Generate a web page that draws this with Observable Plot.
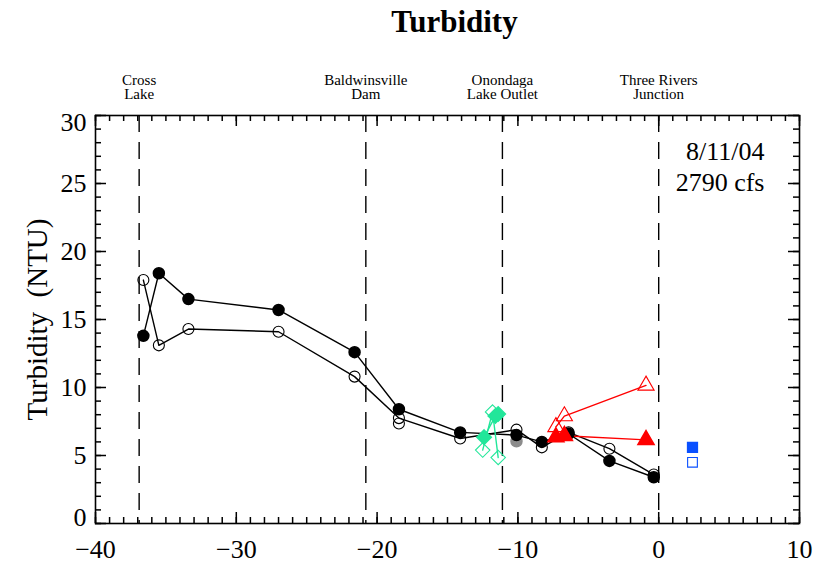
<!DOCTYPE html>
<html>
<head>
<meta charset="utf-8">
<script src="https://cdn.jsdelivr.net/npm/d3@7"></script>
<script src="https://cdn.jsdelivr.net/npm/@observablehq/plot@0.6"></script>
<style>
  html, body { margin: 0; padding: 0; background: #fff; }
</style>
</head>
<body>
<div id="chart"></div>
<script>
// Landmarks along the river (km relative to Three Rivers Junction)
const siteNames = ["Cross\nLake", "Baldwinsville\nDam", "Onondaga\nLake Outlet", "Three Rivers\nJunction"];
const siteKm = [-36.9, -20.8, -11.1, 0];

// Main-stem stations: distance (km) and turbidity (NTU)
const stationKm  = [-36.6, -35.5, -33.4, -27.0, -21.6, -18.45, -14.1, -10.1, -8.3, -6.4, -3.5, -0.35];
const turbFilled = [13.8, 18.4, 16.5, 15.7, 12.6, 8.4, 6.7, 6.5, 6.0, 6.6, 4.6, 3.4];
const turbOpen   = [17.9, 13.1, 14.3, 14.1, 10.8, 7.75, 6.25, 6.9, 5.6, 6.7, 5.5, 3.6];

// Extra main-stem readings
const extraOpenKm = [-18.45];
const extraOpenTurb = [7.35];
const grayKm = [-10.1];
const grayTurb = [6.05];

// Onondaga Lake outlet samples (diamonds)
const outletFilledKm = [-12.4, -11.6, -11.4];
const outletFilledTurb = [6.35, 7.9, 8.05];
const outletOpenKm = [-12.5, -11.8, -11.4];
const outletOpenTurb = [5.4, 8.2, 4.85];

// Seneca River samples (triangles)
const senecaKm = [-7.3, -6.7, -0.9];
const senecaFilledTurb = [6.35, 6.45, 6.15];
const senecaOpenTurb = [7.1, 7.9, 10.15];

// Oneida River samples (squares)
const oneidaKm = [2.4];
const oneidaFilledTurb = [5.6];
const oneidaOpenTurb = [4.5];

// Run annotation
const runDate = "8/11/04";
const runFlow = "2790 cfs";

// Axis ticks
const xDomain = [-40, 10];
const yDomain = [0, 30];
const xTickLabels = [-40, -30, -20, -10, 0, 10];
const yTickLabels = [0, 5, 10, 15, 20, 25, 30];
const xMinor = d3.range(-40, 11, 1);
const yMinor = d3.range(0, 31, 1);

const pts = (xs, ys) => xs.map((x, i) => ({x, y: ys[i]}));

const mainFilled = pts(stationKm, turbFilled);
const mainOpen = pts(stationKm, turbOpen);
const extraOpen = pts(extraOpenKm, extraOpenTurb);
const gray = pts(grayKm, grayTurb);
const outletFilled = pts(outletFilledKm, outletFilledTurb);
const outletOpen = pts(outletOpenKm, outletOpenTurb);
const senecaFilled = pts(senecaKm, senecaFilledTurb);
const senecaOpen = pts(senecaKm, senecaOpenTurb);
const oneidaFilled = pts(oneidaKm, oneidaFilledTurb);
const oneidaOpen = pts(oneidaKm, oneidaOpenTurb);
const sites = siteKm.map((x, i) => ({x, name: siteNames[i]}));

const GREEN = "#22e69a";
const RED = "#ff0000";
const BLUE = "#0a50ff";

// Plot frame size in pixels
const W = 815, H = 564;
const mL = 95, mR = 16, mT = 115, mB = 41;
const frameW = W - mL - mR, frameH = H - mT - mB;
const xPerPx = (xDomain[1] - xDomain[0]) / frameW;

// Inward ticks: x ticks as short tick marks inset from the frame, y ticks as short rules
const xTickMarks = (ticks, len) => [
  Plot.tickX(ticks, {x: d => d, stroke: "black", strokeWidth: 1.5, insetTop: frameH - len}),
  Plot.tickX(ticks, {x: d => d, stroke: "black", strokeWidth: 1.5, insetBottom: frameH - len})
];
const yTickMarks = (ticks, len) => [
  Plot.ruleY(ticks, {y: d => d, x1: xDomain[0], x2: xDomain[0] + len * xPerPx, stroke: "black", strokeWidth: 1.5}),
  Plot.ruleY(ticks, {y: d => d, x1: xDomain[1], x2: xDomain[1] - len * xPerPx, stroke: "black", strokeWidth: 1.5})
];

const labelAxisY = (ticks, dy) =>
  Plot.axisY(ticks, {anchor: "left", tickSize: 0, tickPadding: 9, fontSize: 26, label: null, dy});

const chart = Plot.plot({
  width: W,
  height: H,
  marginLeft: mL,
  marginRight: mR,
  marginTop: mT,
  marginBottom: mB,
  x: {domain: xDomain, label: null},
  y: {domain: yDomain, label: null},
  style: {fontFamily: "'Liberation Serif', 'Times New Roman', serif"},
  marks: [
    // landmark positions
    Plot.ruleX(siteKm, {stroke: "black", strokeWidth: 1.4, strokeDasharray: "17,10"}),

    // tick labels
    Plot.axisX(xTickLabels, {anchor: "bottom", tickSize: 0, tickPadding: 16, fontSize: 26, label: null}),
    labelAxisY(yTickLabels.filter(d => d > 0 && d < 30), 0),
    labelAxisY([yTickLabels[yTickLabels.length - 1]], 7),
    labelAxisY([yTickLabels[0]], -6),

    // landmark names above the frame
    Plot.text(sites, {x: "x", text: "name", frameAnchor: "top", lineAnchor: "middle", dy: -28, fontSize: 15, lineHeight: 0.93}),

    // title and y-axis label
    Plot.text(["Turbidity"], {text: d => d, frameAnchor: "top", lineAnchor: "middle", dx: 7, dy: -93, fontSize: 31, fontWeight: "bold"}),
    Plot.text(["Turbidity  (NTU)"], {text: d => d, frameAnchor: "left", textAnchor: "middle", lineAnchor: "middle", rotate: -90, dx: -58, fontSize: 29}),

    // date and flow
    Plot.text([`${runDate}\n${runFlow}`], {text: d => d, frameAnchor: "top-right", textAnchor: "end", lineAnchor: "top", dx: -35, dy: 23, fontSize: 26, lineHeight: 1.19}),

    // connecting lines
    Plot.line(mainOpen, {x: "x", y: "y", stroke: "black", strokeWidth: 1.4}),
    Plot.line(mainFilled, {x: "x", y: "y", stroke: "black", strokeWidth: 1.4}),
    Plot.line(outletOpen, {x: "x", y: "y", stroke: GREEN, strokeWidth: 1.4}),
    Plot.line(outletFilled, {x: "x", y: "y", stroke: GREEN, strokeWidth: 1.4}),
    Plot.line(senecaOpen, {x: "x", y: "y", stroke: RED, strokeWidth: 1.4}),
    Plot.line(senecaFilled, {x: "x", y: "y", stroke: RED, strokeWidth: 1.4}),

    // markers
    Plot.dot(gray, {x: "x", y: "y", r: 5.5, fill: "#8c8c8c", stroke: "#8c8c8c"}),
    Plot.dot(mainOpen, {x: "x", y: "y", r: 5.5, fill: "none", stroke: "black", strokeWidth: 1.1}),
    Plot.dot(extraOpen, {x: "x", y: "y", r: 5.5, fill: "none", stroke: "black", strokeWidth: 1.1}),
    Plot.dot(mainFilled, {x: "x", y: "y", r: 5.5, fill: "black", stroke: "black"}),
    Plot.dot(outletOpen, {x: "x", y: "y", r: 6.5, symbol: "diamond2", fill: "none", stroke: GREEN, strokeWidth: 1.1}),
    Plot.dot(outletFilled, {x: "x", y: "y", r: 6.5, symbol: "diamond2", fill: GREEN, stroke: GREEN}),
    Plot.dot(senecaOpen, {x: "x", y: "y", r: 6, symbol: "triangle", fill: "none", stroke: RED, strokeWidth: 1.1}),
    Plot.dot(senecaFilled, {x: "x", y: "y", r: 6, symbol: "triangle", fill: RED, stroke: RED}),
    Plot.dot(oneidaFilled, {x: "x", y: "y", r: 5.5, symbol: "square", fill: BLUE, stroke: BLUE}),
    Plot.dot(oneidaOpen, {x: "x", y: "y", r: 5.5, symbol: "square", fill: "none", stroke: BLUE, strokeWidth: 1.1}),

    // frame and inward ticks on all four sides
    Plot.frame({stroke: "black", strokeWidth: 1.6}),
    ...xTickMarks(xMinor, 6),
    ...xTickMarks(xTickLabels, 11),
    ...yTickMarks(yMinor, 6),
    ...yTickMarks(yTickLabels, 11)
  ]
});

document.getElementById("chart").appendChild(chart);
</script>
</body>
</html>
